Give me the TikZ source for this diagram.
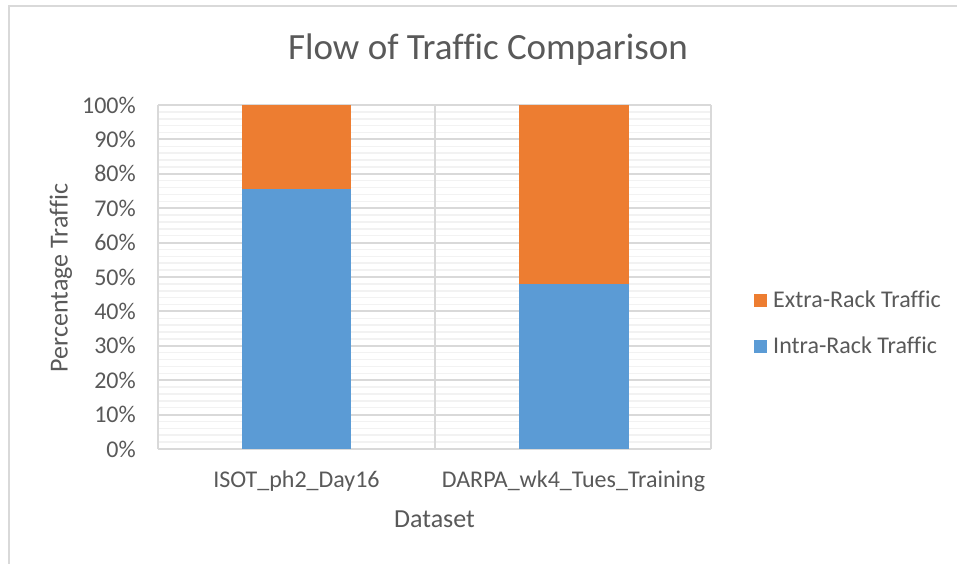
\documentclass[tikz,border=0pt]{standalone}
\usepackage{fontspec}
\setmainfont{Carlito}[Ligatures=NoCommon]
\definecolor{txt}{HTML}{595959}
\definecolor{orangebar}{HTML}{ED7D31}
\definecolor{bluebar}{HTML}{5B9BD5}
\definecolor{majgrid}{HTML}{D9D9D9}
\definecolor{mingrid}{HTML}{F2F2F2}
\begin{document}
\begin{tikzpicture}[x=1pt,y=-1pt,
  lbl/.style={text=txt,inner sep=0pt,font=\fontsize{24}{28}\selectfont},
  axislbl/.style={text=txt,inner sep=0pt,font=\fontsize{26}{30}\selectfont},
  ticklbl/.style={lbl,anchor=east},
  titlelbl/.style={text=txt,inner sep=0pt,font=\fontsize{37}{44}\selectfont},
  minorline/.style={draw=mingrid,line width=1.5pt},
  majorline/.style={draw=majgrid,line width=2pt},
  swatch/.style={minimum width=13pt,minimum height=13pt,inner sep=0pt}]
\useasboundingbox (0,0) rectangle (957,564);
\fill[white] (0,0) rectangle (957,564);
% chart frame
\draw[majgrid,line width=1.2pt] (9,564) -- (9,6) -- (957,6);
% minor gridlines every 2%
\foreach \p in {2,4,...,98}{
  \draw[minorline] (158,{449-3.44*\p}) -- (711,{449-3.44*\p});
}
% major gridlines every 10%
\foreach \p in {0,10,...,100}{
  \draw[majorline] (158,{449-3.44*\p}) -- (711,{449-3.44*\p});
}
\draw[majorline] (158,105) -- (158,449);
\draw[majorline] (434.5,105) -- (434.5,449);
\draw[majorline] (711,105) -- (711,449);
% stacked bars
\fill[bluebar] (242,449) rectangle (351,{449-3.44*75.6});
\fill[orangebar] (242,{449-3.44*75.6}) rectangle (351,105);
\fill[bluebar] (518.5,449) rectangle (628.5,{449-3.44*48.1});
\fill[orangebar] (518.5,{449-3.44*48.1}) rectangle (628.5,105);
% axis tick labels
\foreach \p in {0,10,...,100}{
  \node[ticklbl] (tick\p) at (136,{449-3.44*\p}) {\p\%};
}
% title and axis titles
\node[titlelbl] (title) at (488,50) {Flow of Traffic Comparison};
\node[axislbl,rotate=90] (ytitle) at (61,278) {Percentage Traffic};
\node[lbl] (cat1) at (296.5,481) {ISOT\_ph2\_Day16};
\node[lbl] (cat2) at (573.5,481) {DARPA\_wk4\_Tues\_Training};
\node[axislbl] (xtitle) at (434.5,519) {Dataset};
% legend
\node[swatch,fill=orangebar] (swext) at (760,300) {};
\node[lbl,anchor=west] (legext) at (773,299) {Extra-Rack Traffic};
\node[swatch,fill=bluebar] (swint) at (760,346) {};
\node[lbl,anchor=west] (legint) at (773,345) {Intra-Rack Traffic};
\end{tikzpicture}
\end{document}
